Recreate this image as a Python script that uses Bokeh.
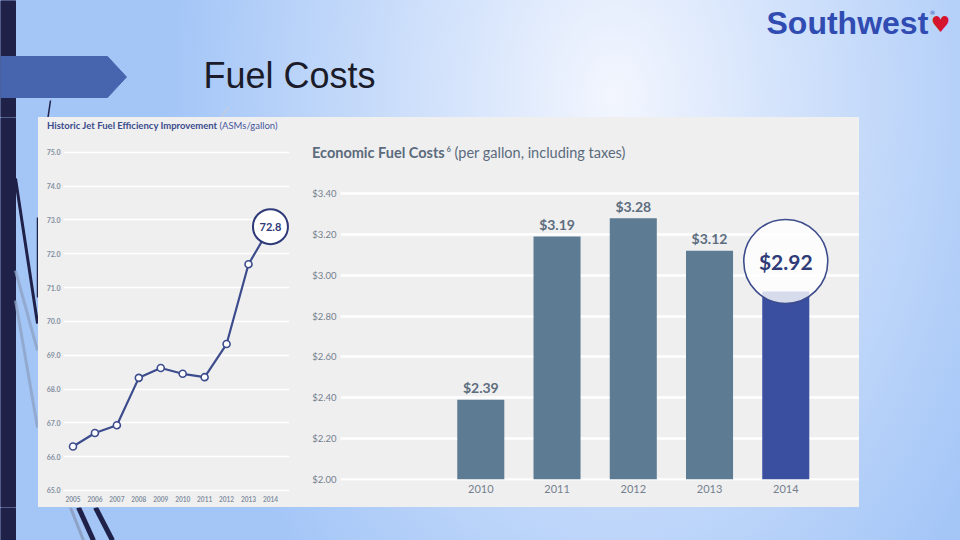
from bokeh.plotting import figure
from bokeh.layouts import column, row
from bokeh.models import Range1d, FixedTicker, NumeralTickFormatter, Spacer, Div
from bokeh.embed import file_html
from bokeh.resources import INLINE
from bokeh.core.properties import value

# ---------------- data ----------------
eff_years = [2005, 2006, 2007, 2008, 2009, 2010, 2011, 2012, 2013, 2014]
eff_values = [66.3, 66.7, 66.93, 68.33, 68.62, 68.45, 68.35, 69.33, 71.69, 72.8]
eff_ticks = [65.0, 66.0, 67.0, 68.0, 69.0, 70.0, 71.0, 72.0, 73.0, 74.0, 75.0]

fuel_years = ["2010", "2011", "2012", "2013", "2014"]
fuel_costs = [2.39, 3.19, 3.28, 3.12, 2.92]
fuel_ticks = [2.0, 2.2, 2.4, 2.6, 2.8, 3.0, 3.2, 3.4]

NAVY = "#1f2149"
PANEL = "#efeff0"
FONT = "Lato"


def deco_fig(w, h, xr, yr, fill=None):
    p = figure(width=w, height=h, x_range=Range1d(*xr), y_range=Range1d(*yr),
               output_backend="svg", toolbar_location=None,
               x_axis_type=None, y_axis_type=None, min_border=0,
               border_fill_color=fill, background_fill_color=fill,
               outline_line_color=None)
    p.grid.visible = False
    return p


def style_axes(p, color):
    for ax in (p.xaxis[0], p.yaxis[0]):
        ax.axis_line_color = None
        ax.major_tick_line_color = None
        ax.minor_tick_line_color = None
        ax.major_tick_out = 0
        ax.major_tick_in = 0
        ax.major_label_text_font = FONT
        ax.major_label_text_color = color


# ---------------- header (slide coords 0..960 x 0..117) ----------------
hdr = deco_fig(960, 117, (0, 960), (117, 0))
hdr.quad(left=0, right=15, top=0, bottom=117, color=NAVY)
hdr.patch([0, 107, 126, 107, 0], [56, 56, 76.5, 97, 97], color="#4764ae")
hdr.segment(x0=[50], y0=[100], x1=[47.5], y1=[117], color=NAVY, line_width=1.5)
hdr.segment(x0=[228], y0=[107], x1=[220], y1=[117], color="#c3cde2", line_width=1.5)
hdr.text(x=[203], y=[75], text=["Fuel Costs"], text_font=value("Liberation Sans"),
         text_font_size="36px", text_color="#1b1b29", text_baseline="middle")
hdr.text(x=[766], y=[22], text=["Southwest"], text_font=value("Liberation Sans"),
         text_font_size="32px", text_font_style="bold", text_color="#304cb2",
         text_baseline="middle")
hdr.text(x=[929], y=[12], text=["®"], text_font=value("DejaVu Sans"),
         text_font_size="6px", text_color="#304cb2", text_baseline="middle")
hdr.text(x=[940], y=[24], text=["♥"], text_font=value("DejaVu Sans"),
         text_font_size="22px", text_color="#d5152e", text_align="center",
         text_baseline="middle")

# ---------------- left decorative strip (x 0..38, y 117..507) ----------------
lstrip = deco_fig(38, 390, (0, 38), (507, 117))
lstrip.quad(left=0, right=15, top=117, bottom=507, color=NAVY)
lstrip.segment(x0=[15, 15], y0=[270, 300], x1=[37, 37], y1=[350, 427],
               color="#8ea2c6", line_width=3, line_alpha=0.8)
lstrip.segment(x0=[15], y0=[178], x1=[37], y1=[323], color=NAVY, line_width=3)
lstrip.segment(x0=[37], y0=[217], x1=[37], y1=[297], color=NAVY, line_width=1.5)

# ---------------- left chart ----------------
ltitle = Div(
    text=('<div style="font-family:Lato;font-size:9.5px;color:#3a4b8c;white-space:nowrap;'
          'padding:3px 0 0 9px;line-height:12px"><b>Historic Jet Fuel Efficiency Improvement</b>'
          ' <span style="color:#46569a">(ASMs/gallon)</span></div>'),
    width=258, height=28, margin=0, styles={"background-color": PANEL})

lx0, lx1 = 2004.567, 2014.868
ly0, ly1 = 64.94, 75.2
left = figure(width=258, height=362, x_range=Range1d(lx0, lx1), y_range=Range1d(ly0, ly1),
              output_backend="svg", toolbar_location=None,
              min_border_left=25, min_border_right=7, min_border_top=0, min_border_bottom=15,
              border_fill_color=PANEL, background_fill_color=PANEL, outline_line_color=None)
left.xgrid.visible = False
left.ygrid.grid_line_color = "white"
left.ygrid.grid_line_width = 1.5
left.yaxis.ticker = FixedTicker(ticks=eff_ticks)
left.yaxis.formatter = NumeralTickFormatter(format="0.0")
left.xaxis.ticker = FixedTicker(ticks=eff_years)
style_axes(left, "#8390a0")
left.xaxis.major_label_text_font_style = "bold"
left.yaxis.major_label_text_font_style = "bold"
left.yaxis.major_label_text_font_size = "7px"
left.xaxis.major_label_text_font_size = "6.5px"
left.yaxis.major_label_standoff = 3
left.xaxis.major_label_standoff = 3

left.line(eff_years, eff_values, color="#3c4c8c", line_width=2.2)
left.scatter(eff_years[:-1], eff_values[:-1], size=7, fill_color="white",
             line_color="#3c4c8c", line_width=1.6)
left.scatter(eff_years[-1:], eff_values[-1:], size=35, fill_color="white",
             line_color="#2e3a78", line_width=2)
left.text(x=eff_years[-1:], y=eff_values[-1:], text=[f"{v:.1f}" for v in eff_values[-1:]],
          text_align="center", text_baseline="middle", text_font=value(FONT),
          text_font_size="11px", text_font_style="bold", text_color="#2e3a78")

left_panel = column(ltitle, left, spacing=0, styles={"background-color": PANEL})

# ---------------- right chart ----------------
rtitle = Div(
    text=('<div style="font-family:Lato;font-size:14.5px;color:#5b6b7c;white-space:nowrap;'
          'padding:23px 0 0 16px;line-height:18px"><b>Economic Fuel Costs</b>'
          '<sup style="font-size:7px;font-weight:bold;margin-left:2px">6</sup>'
          ' (per gallon, including taxes)</div>'),
    width=563, height=63, margin=0, styles={"background-color": PANEL})

rx0, rx1 = -1.84, 4.967
ry0, ry1 = 1.9936, 3.4649
idx = list(range(len(fuel_years)))
right = figure(width=563, height=315, x_range=Range1d(rx0, rx1), y_range=Range1d(ry0, ry1),
               output_backend="svg", toolbar_location=None,
               min_border_left=44, min_border_right=0, min_border_top=0, min_border_bottom=15,
               border_fill_color=PANEL, background_fill_color=PANEL, outline_line_color=None)
right.xgrid.visible = False
right.ygrid.grid_line_color = "white"
right.ygrid.grid_line_width = 2.5
right.yaxis.ticker = FixedTicker(ticks=fuel_ticks)
right.yaxis.formatter = NumeralTickFormatter(format="$0.00")
right.xaxis.ticker = FixedTicker(ticks=idx)
right.xaxis.major_label_overrides = {i: y for i, y in enumerate(fuel_years)}
style_axes(right, "#74808d")
right.yaxis.major_label_text_font_size = "9.5px"
right.yaxis.major_label_standoff = 4
right.xaxis.major_label_text_font_size = "11px"
right.xaxis.major_label_standoff = 4

bar_colors = ["#5d7b93"] * (len(fuel_costs) - 1) + ["#3b4fa0"]
right.vbar(x=idx, top=fuel_costs, bottom=fuel_ticks[0], width=0.617,
           fill_color=bar_colors, line_color=None)
right.text(x=idx[:-1], y=fuel_costs[:-1], text=[f"${c:.2f}" for c in fuel_costs[:-1]],
           y_offset=-12, text_align="center", text_baseline="middle",
           text_font=value(FONT), text_font_size="14px", text_font_style="bold",
           text_color="#5d6d7e")
# callout for the latest year
call_y = [fuel_costs[-1] + 0.148]
right.scatter(x=idx[-1:], y=call_y, size=84, fill_color="white", fill_alpha=0.8,
              line_color="#3d4c8c", line_width=1.6)
right.text(x=idx[-1:], y=call_y, text=[f"${c:.2f}" for c in fuel_costs[-1:]],
           text_align="center", text_baseline="middle", text_font=value(FONT),
           text_font_size="21px", text_font_style="bold", text_color="#2e3b78")

rpad = deco_fig(563, 12, (296, 859), (507, 495), fill=PANEL)
right_panel = column(rtitle, right, rpad, spacing=0, styles={"background-color": PANEL})

rspace = Spacer(width=101, height=390, margin=0)

# ---------------- footer (y 507..540) ----------------
ftr = deco_fig(960, 33, (0, 960), (540, 507))
ftr.quad(left=0, right=15, top=507, bottom=540, color=NAVY)
ftr.segment(x0=[70], y0=[507], x1=[83], y1=[540], color="#8ea2c6", line_width=3)
ftr.segment(x0=[78, 95], y0=[507, 507], x1=[93, 112], y1=[540, 540],
            color=NAVY, line_width=5)

layout = column(
    hdr,
    row(lstrip, left_panel, right_panel, rspace, spacing=0),
    ftr,
    spacing=0,
    styles={"background": "radial-gradient(ellipse 46% 120% at 64% 18%, #f3f6fe 0%, "
                          "#dae7fc 30%, #a4c6f7 100%)"},
)

open("out.html", "w").write(file_html(layout, INLINE))
